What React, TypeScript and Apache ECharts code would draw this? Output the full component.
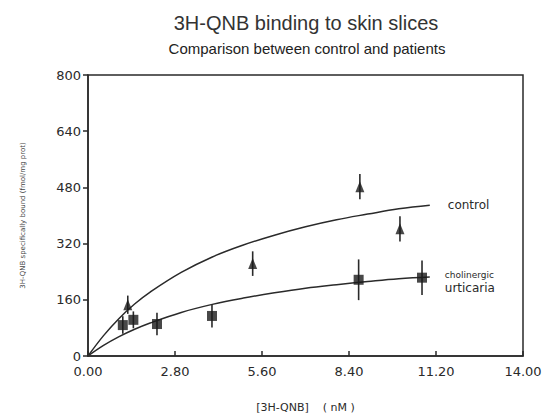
import React, { useEffect, useRef } from "react";
import * as echarts from "echarts";

// Measured points (triangles: control, squares: cholinergic urticaria)
const controlX = [1.28, 5.3, 8.75, 10.04];
const controlY = [146, 263, 482, 362];
const controlErr = [26, 35, 36, 36];

const patientX = [1.12, 1.46, 2.22, 3.99, 8.71, 10.75];
const patientY = [88, 103, 91, 114, 217, 223];
const patientErr = [25, 24, 32, 33, 58, 49];

// Fitted curves
const curveX = [0, 0.5, 1, 1.5, 2, 3, 4, 5, 6, 7, 8, 9, 10, 11];
const controlFit = [0, 58, 107, 148, 182, 238, 282, 316, 344, 368, 388, 404, 419, 429];
const urticariaFit = [0, 30, 55, 76, 94, 124, 147, 165, 180, 193, 203, 212, 220, 225];

const xTicks = [0, 2.8, 5.6, 8.4, 11.2, 14];
const yTicks = [0, 160, 320, 480, 640, 800];

const INK = "#2a2a2a";

function errorBars(xs: number[], ys: number[], errs: number[]) {
  return xs.map((x, i) => [x, ys[i] - errs[i], ys[i] + errs[i]]);
}

function errRender(params: any, api: any) {
  const x = api.value(0);
  const lo = api.coord([x, api.value(1)]);
  const hi = api.coord([x, api.value(2)]);
  return {
    type: "line",
    shape: { x1: lo[0], y1: lo[1], x2: hi[0], y2: hi[1] },
    style: { stroke: INK, lineWidth: 1.6 },
  };
}

export default function App() {
  const ref = useRef<HTMLDivElement>(null);
  useEffect(() => {
    if (!ref.current) return;
    const chart = echarts.init(ref.current, undefined, { renderer: "svg" });
    const font = "DejaVu Sans";
    chart.setOption({
      animation: false,
      backgroundColor: "#ffffff",
      title: [
        {
          text: "3H-QNB binding to skin slices",
          left: 301,
          top: 8,
          textAlign: "center",
          textStyle: { fontFamily: "Liberation Sans", fontSize: 20, fontWeight: "normal", color: "#333" },
        },
        {
          text: "Comparison between control and patients",
          left: 302,
          top: 36,
          textAlign: "center",
          textStyle: { fontFamily: "Liberation Sans", fontSize: 15, fontWeight: "normal", color: "#222" },
        },
      ],
      grid: {
        left: 88,
        right: 20,
        top: 75,
        bottom: 60,
        outerBoundsMode: "none",
        containLabel: false,
        show: true,
        borderColor: INK,
        borderWidth: 1.5,
        backgroundColor: "transparent",
      },
      xAxis: {
        type: "value",
        min: 0,
        max: 14,
        interval: 2.8,
        name: "[3H-QNB]    ( nM )",
        nameLocation: "middle",
        nameGap: 46,
        nameTextStyle: { fontFamily: font, fontSize: 11, color: INK },
        axisLine: { show: true, onZero: false, lineStyle: { color: INK, width: 1.5 } },
        axisTick: { show: true, inside: true, length: 5, lineStyle: { color: INK, width: 1.5 } },
        axisLabel: {
          fontFamily: font,
          fontSize: 13,
          color: INK,
          margin: 9,
          formatter: (v: number) => v.toFixed(2),
          customValues: xTicks,
        },
        splitLine: { show: false },
      },
      yAxis: {
        type: "value",
        min: 0,
        max: 800,
        interval: 160,
        name: "3H-QNB specifically bound (fmol/mg prot)",
        nameLocation: "middle",
        nameGap: 62,
        nameRotate: 90,
        nameTextStyle: { fontFamily: font, fontSize: 7, color: "#444" },
        axisLine: { show: true, onZero: false, lineStyle: { color: INK, width: 1.5 } },
        axisTick: { show: true, inside: false, length: 5, lineStyle: { color: INK, width: 1.5 } },
        axisLabel: { fontFamily: font, fontSize: 13, color: INK, margin: 7, customValues: yTicks },
        splitLine: { show: false },
      },
      series: [
        {
          type: "line",
          name: "control fit",
          data: curveX.map((x, i) => [x, controlFit[i]]),
          smooth: 0.4,
          symbol: "none",
          lineStyle: { color: INK, width: 1.5 },
          endLabel: {
            show: true,
            formatter: "control",
            distance: 18,
            fontFamily: font,
            fontSize: 12,
            color: INK,
          },
          z: 2,
        },
        {
          type: "line",
          name: "urticaria fit",
          data: curveX.map((x, i) => [x, urticariaFit[i]]),
          smooth: 0.4,
          symbol: "none",
          lineStyle: { color: INK, width: 1.5 },
          endLabel: {
            show: true,
            formatter: "{a|cholinergic}\n{b|urticaria}",
            distance: 15,
            offset: [0, 5],
            color: INK,
            rich: {
              a: { fontFamily: font, fontSize: 9, color: INK, lineHeight: 12 },
              b: { fontFamily: font, fontSize: 12, color: INK, lineHeight: 14 },
            },
          },
          z: 2,
        },
        {
          type: "custom",
          name: "control err",
          data: errorBars(controlX, controlY, controlErr),
          renderItem: errRender,
          encode: { x: 0, y: [1, 2] },
          z: 3,
        },
        {
          type: "custom",
          name: "patient err",
          data: errorBars(patientX, patientY, patientErr),
          renderItem: errRender,
          encode: { x: 0, y: [1, 2] },
          z: 3,
        },
        {
          type: "scatter",
          name: "control",
          data: controlX.map((x, i) => [x, controlY[i]]),
          symbol: "triangle",
          symbolSize: [9, 11],
          itemStyle: { color: "#1a1a1a" },
          z: 4,
        },
        {
          type: "scatter",
          name: "cholinergic urticaria",
          data: patientX.map((x, i) => [x, patientY[i]]),
          symbol: "rect",
          symbolSize: 10,
          itemStyle: { color: "#1a1a1a" },
          z: 4,
        },
      ],
    });
    return () => chart.dispose();
  }, []);
  return (
    <div
      ref={ref}
      style={{ position: "absolute", left: 0, top: 0, width: 543, height: 416 }}
    />
  );
}
